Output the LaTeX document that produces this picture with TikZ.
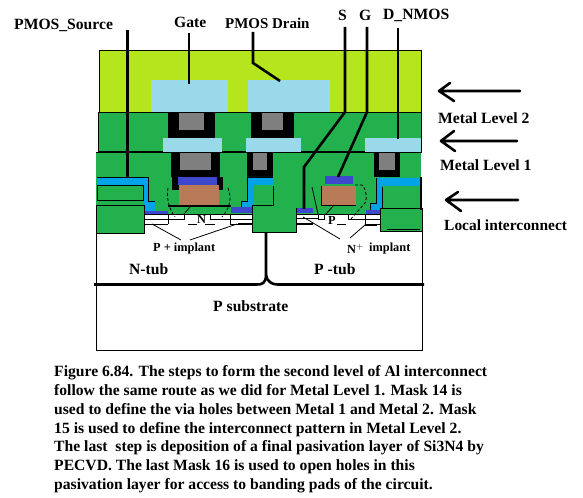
\documentclass[tikz,border=0pt]{standalone}
\usepackage{fontspec}
\setmainfont{Liberation Serif}
\definecolor{passiv}{HTML}{B5E61D}
\definecolor{oxide}{HTML}{22B14C}
\definecolor{metal}{HTML}{99D9EA}
\definecolor{localic}{HTML}{00A2E8}
\definecolor{silicide}{HTML}{3F48CC}
\definecolor{poly}{HTML}{B97A57}
\definecolor{plug}{HTML}{7F7F7F}
\tikzset{
  x=1bp,y=-1bp,
  lab/.style={font=\fontsize{15.7}{18}\selectfont\bfseries,inner sep=0pt,anchor=west,text=black},
  smalllab/.style={font=\fontsize{12.4}{14}\selectfont\bfseries,inner sep=0pt,anchor=west,text=black},
  lead/.style={line width=2.6bp,draw=black},
  thin edge/.style={line width=1bp,draw=black},
  fine/.style={line width=0.8bp,draw=black},
  dotcurve/.style={line width=0.8bp,draw=black,densely dashed},
  bigarrow/.style={line width=2.6bp,draw=black,line cap=round,line join=round},
}
\begin{document}
\begin{tikzpicture}
\useasboundingbox (0,0) rectangle (583,498);
\fill[white] (0,0) rectangle (583,498);
% passivation
\filldraw[fill=passiv,thin edge] (99,51) rectangle (421.5,113);
\fill[metal] (151,80) rectangle (228,112);
\fill[metal] (248,80) rectangle (330,112);
% level 2 oxide
\filldraw[fill=oxide,thin edge] (98,113) rectangle (421.5,152);
% via 2 black and plug
\fill[black] (168,112) rectangle (215,138);
\fill[plug] (179,113) rectangle (204,130);
\fill[black] (251,112) rectangle (294,139);
\fill[plug] (262,113) rectangle (283,130);
% metal 1
\fill[metal] (163,138) rectangle (222,152);
\fill[metal] (246,138) rectangle (301,152);
\fill[metal] (365,138) rectangle (421,152);
% level 1 oxide
\fill[oxide] (96,152) rectangle (421,215);
\draw[thin edge] (96,152.5) -- (421.5,152.5);
% vias 1
\fill[black] (171,152.5) rectangle (220,177);
\fill[plug] (180,153) rectangle (211,170);
\fill[black] (247,152.5) rectangle (273,177);
\fill[plug] (253,153) rectangle (267,170);
\fill[black] (374,152.5) rectangle (400,177);
\fill[plug] (379,153) rectangle (395,170);
\fill[black] (172,177) rectangle (223,190);
% PMOS gate
\fill[silicide] (178,177) rectangle (217,185);
\fill[poly] (179,185) rectangle (219,205);
\fill[oxide] (172,190) rectangle (179,205);
\fill[oxide] (219,190) rectangle (223,205);
\fill[black] (168,205) rectangle (231,207.5);
% white wells
\fill[white] (144,215) rectangle (252,285);
\fill[white] (296,215) rectangle (422,285);
\fill[white] (96,232) rectangle (252,285);
% local interconnect, left
\fill[localic] (97,178) -- (148,178) -- (148,202) -- (155,202) -- (155,211) -- (143,211) -- (143,185) -- (97,185) -- cycle;
\draw[fine] (97,177.5) -- (148,177.5) -- (148,201.5) -- (155,201.5);
\filldraw[fill=oxide,thin edge] (97,186) rectangle (143,201);
\fill[silicide] (144,211) rectangle (168,214.5);
\filldraw[fill=oxide,thin edge] (96,206) rectangle (144,233);
% local interconnect, centre
\fill[localic] (247,177) -- (273,177) -- (273,185) -- (253,185) -- (253,207) -- (241,207) -- (241,201) -- (247,201) -- cycle;
\draw[fine] (241,207) -- (241,201) -- (247,201) -- (247,177) -- (273,177);
\fill[silicide] (231,207) rectangle (253,213);
\fill[oxide] (252,206) rectangle (296,232);
\draw[thin edge] (273,186) -- (273,206) -- (252,206) -- (252,232) -- (296,232) -- (296,208);
% NMOS gate
\fill[silicide] (325,176) rectangle (353,184);
\fill[poly] (321,186) rectangle (356,205);
\draw[fine] (321,186) -- (321,205) -- (356,205);
\fill[silicide] (297,208) rectangle (313,213);
\fill[silicide] (366,210) rectangle (380,214);
% local interconnect, right
\fill[localic] (376,178) -- (420,178) -- (420,186) -- (382,186) -- (382,210) -- (370,210) -- (370,203) -- (376,203) -- cycle;
\draw[fine] (370,210) -- (370,203) -- (376,203) -- (376,178);
\draw[fine] (382,187) -- (382,209);
\filldraw[fill=oxide,thin edge] (380,209) rectangle (422,231);
\draw[fine] (387,229) -- (420,229);
\draw[line width=2bp,draw=black] (421,177) -- (421,210);
% device detail: PMOS
\draw[thin edge] (144,214.5) -- (252,214.5);
\draw[thin edge] (144,219) -- (168,219) (168,214) -- (168,224) (144,224) -- (168,224);
\draw[thin edge] (168,219) -- (184,219) -- (184,214);
\draw[thin edge] (210,214) -- (210,219) -- (252,219);
\draw[thin edge] (230,214) -- (230,224) -- (252,224);
\draw[thin edge] (188,224) -- (197,224) (205,224) -- (215,224);
\draw[line width=1.5bp,draw=black] (238,224) -- (252,224);
\coordinate (pa) at (152,224);
\coordinate (pb) at (237,224);
\coordinate (pc) at (181,240);
\coordinate (pd) at (190,240);
\draw[fine] (pa) -- (pc) (pd) -- (pb);
\draw[dotcurve] (168,188) .. controls (166,200) and (170,210) .. (175,217);
\draw[dotcurve] (228,188) .. controls (232,198) and (230,208) .. (222,217);
\draw[fine] (190,207) -- (184,214);
% device detail: NMOS
\draw[thin edge] (296,214.5) -- (380,214.5);
\draw[thin edge] (296,218.5) -- (318,218.5) -- (318,214) (324,214) -- (324,219) -- (318,219);
\draw[line width=1.5bp,draw=black] (296,224) -- (313,224);
\draw[thin edge] (337,224) -- (346,224);
\draw[thin edge] (348,219) -- (348,214) (348,219) -- (380,219) (365,214) -- (365,224) (365,224) -- (380,224);
\draw[line width=1.3bp,draw=black] (365,225) -- (377,225);
\coordinate (na) at (303,217);
\coordinate (nb) at (340,239);
\coordinate (nc) at (350,238);
\coordinate (nd) at (365,225);
\draw[fine] (na) -- (nb) (nc) -- (nd);
\draw[fine] (334,205) -- (326,214);
\draw[fine] (312,187) -- (318,214);
\draw[dotcurve] (355,185) -- (362,185) .. controls (367,190) and (367,200) .. (365,203) -- (350,220);
% substrate and wells
\draw[thin edge] (96,206) -- (96,350.5) -- (422.5,350.5) -- (422.5,210);
\draw[line width=2.6bp,draw=black] (94,284.5) -- (256,284.5) .. controls (262,285) and (266,283) .. (266,275) -- (266,232);
\draw[line width=2.6bp,draw=black] (266,275) .. controls (267,282) and (272,285) .. (281,284.5) -- (424,284.5);
% leaders
\coordinate (srcTop) at (127.5,30);
\coordinate (srcEnd) at (127.5,178);
\coordinate (gateTop) at (189,33);
\coordinate (gateEnd) at (189,84);
\coordinate (drnTop) at (253,32);
\coordinate (drnBend) at (253,63);
\coordinate (drnEnd) at (280,81);
\coordinate (sTop) at (345,27);
\coordinate (sBend) at (345,112);
\coordinate (sBend2) at (304,167);
\coordinate (sEnd) at (304,209);
\coordinate (gTop) at (367,27);
\coordinate (gBend) at (367,112);
\coordinate (gEnd) at (338,177);
\coordinate (dTop) at (398,28);
\coordinate (dEnd) at (398,139);
\draw[lead] (srcTop) -- (srcEnd);
\draw[lead] (gateTop) -- (gateEnd);
\draw[lead] (drnTop) -- (drnBend) -- (drnEnd);
\draw[lead] (sTop) -- (sBend) -- (sBend2) -- (sEnd);
\draw[lead] (gTop) -- (gBend) -- (gEnd);
\draw[lead] (dTop) -- (dEnd);
% level arrows
\coordinate (a1) at (520,91);
\coordinate (a1t) at (439,91);
\coordinate (a2) at (517,141);
\coordinate (a2t) at (441,141);
\coordinate (a3) at (518,200);
\coordinate (a3t) at (446,200);
\draw[bigarrow] (a1) -- (a1t) (450,83) -- (a1t) -- (454,101);
\draw[bigarrow] (a2) -- (a2t) (454,131) -- (a2t) -- (455,151);
\draw[bigarrow] (a3) -- (a3t) (458,192) -- (a3t) -- (461,211);
% labels
\node[lab] (lSource) at (14,25) {PMOS\_Source};
\node[lab] (lGate) at (174,22) {Gate};
\node[lab,font=\fontsize{15}{18}\selectfont\bfseries] (lDrain) at (225,23) {PMOS Drain};
\node[lab] (lS) at (338,15) {S};
\node[lab] (lG) at (359,15) {G};
\node[lab] (lD) at (383,15) {D\_NMOS};
\node[lab] (lM2) at (438,118) {Metal Level 2};
\node[lab] (lM1) at (440,165) {Metal Level 1};
\node[lab,font=\fontsize{15.5}{18}\selectfont\bfseries] (lLI) at (444,225) {Local interconnect};
\node[smalllab] (lN) at (197,219) {N};
\node[smalllab] (lP) at (328,220) {P};
\node[smalllab] (lPi) at (153,249) {P + implant};
\node[smalllab] (lNi) at (347,249) {N$^{+}$};
\node[smalllab] (lNi2) at (369,249) {implant};
\node[lab] (lNtub) at (129,269) {N-tub};
\node[lab] (lPtub) at (314,269) {P -tub};
\node[lab] (lSub) at (213,306) {P substrate};
\node[lab,anchor=north west,align=left,font=\fontsize{15.7}{19}\selectfont\bfseries] (caption) at (54,365) {Figure 6.84. The steps to form the second level of Al interconnect\\
follow the same route as we did for Metal Level 1. Mask 14 is\\
used to define the via holes between Metal 1 and Metal 2. Mask\\
15 is used to define the interconnect pattern in Metal Level 2.\\
The last\ \ step is deposition of a final pasivation layer of Si3N4 by\\
PECVD. The last Mask 16 is used to open holes in this\\
pasivation layer for access to banding pads of the circuit.};
\end{tikzpicture}
\end{document}
